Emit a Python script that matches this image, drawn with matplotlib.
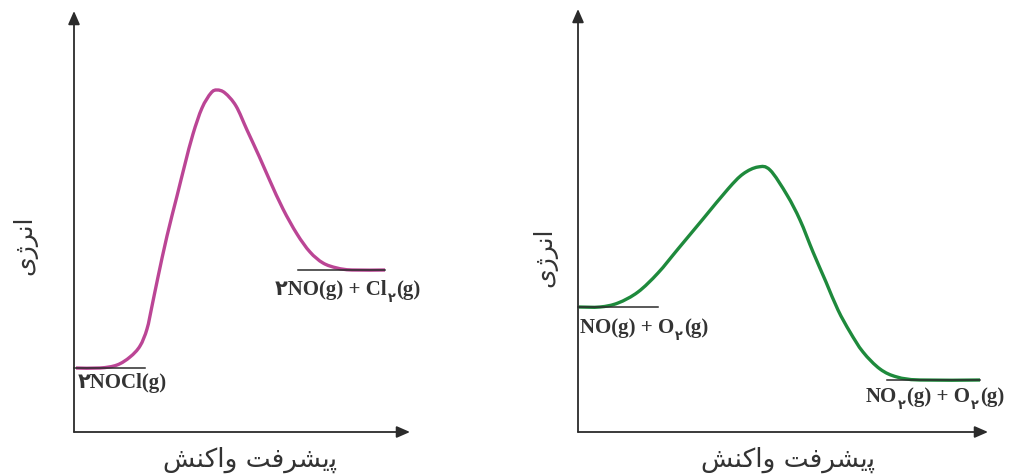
import matplotlib
matplotlib.use("Agg")
import matplotlib.pyplot as plt
from matplotlib.path import Path
from matplotlib.patches import PathPatch

# Energy profiles (arbitrary units: progress, energy)
# left: 2NOCl(g) -> 2NO(g) + Cl2(g)   (endothermic)
nocl_progress = [2, 26, 43, 56, 66, 73, 78, 84, 93, 103, 111, 119, 128, 137,
                 143, 151, 162, 173, 185, 196, 209, 223, 236, 249, 263, 278, 311]
nocl_energy = [64, 64, 67, 75, 86, 103, 126, 155, 196, 236, 268, 298, 324, 339,
               342, 339, 326, 302, 276, 251, 223, 198, 180, 169, 164, 162, 162]

# right: NO(g) + O3(g) -> NO2(g) + O2(g)   (exothermic)
no_progress = [1, 22, 40, 60, 80, 100, 125, 150, 165, 180, 192, 209,
               222, 235, 248, 260, 272, 285, 302, 319, 342, 402]
no_energy = [125, 125, 129, 140, 159, 183, 213, 243, 258, 265, 262, 237,
             212, 180, 150, 122, 100, 80, 63, 55, 52, 52]

# Persian text given in visual order with presentation forms
# (matplotlib does no Arabic shaping / bidi)
Y_LABEL = "\uFBFC\uFB8A\uFEAE\uFEE7\uFE8D"  # انرژی
X_LABEL = "\uFEB6\uFEE8\uFB90\uFE8D\uFEED \uFE96\uFED3\uFEAE\uFEB8\uFBFE\uFB58"  # پیشرفت واکنش
TWO = "\u06F2"

# (text, is_subscript) pieces for the species labels
left_reactant = [(TWO + "NOCl(g)", False)]
left_product = [(TWO + "NO(g) + Cl", False), (TWO, True), ("(g)", False)]
right_reactant = [("NO(g) + O", False), (TWO, True), ("(g)", False)]
right_product = [("NO", False), (TWO, True), ("(g) + O", False), (TWO, True), ("(g)", False)]

AXIS_COLOR = "#2b2b2b"
TEXT_COLOR = "#333333"
LABEL_FONT = ["Liberation Serif", "DejaVu Sans"]
AR_FONT = ["DejaVu Sans"]


def smooth_path(xs, ys):
    # catmull-rom through the read points, as cubic bezier segments
    pts = list(zip(xs, ys))
    verts = [pts[0]]
    codes = [Path.MOVETO]
    n = len(pts)
    for i in range(n - 1):
        p0 = pts[max(i - 1, 0)]
        p1 = pts[i]
        p2 = pts[i + 1]
        p3 = pts[min(i + 2, n - 1)]
        c1 = (p1[0] + (p2[0] - p0[0]) / 6, p1[1] + (p2[1] - p0[1]) / 6)
        c2 = (p2[0] - (p3[0] - p1[0]) / 6, p2[1] - (p3[1] - p1[1]) / 6)
        verts += [c1, c2, p2]
        codes += [Path.CURVE4] * 3
    return Path(verts, codes)


def chem_label(ax, x, y, parts, size=15):
    first = None
    prev = None
    for txt, sub in parts:
        fs = size * 0.62 if sub else size
        if first is None:
            prev = ax.text(x, y, txt, fontsize=fs, fontweight="bold",
                           family=LABEL_FONT, color=TEXT_COLOR,
                           ha="left", va="center")
            first = prev
            continue
        prev = ax.annotate(txt, xy=(1, 0), xycoords=(prev, first),
                           xytext=(0.7, -3.5 if sub else 0),
                           textcoords="offset points",
                           fontsize=fs, fontweight="bold", family=LABEL_FONT,
                           color=TEXT_COLOR, ha="left", va="bottom")


def draw_panel(ax, progress, energy, color, x_tip, y_tip,
               react_end, prod_start, prod_end, xlab_x, ylab_x, ylab_y):
    # axes with arrow heads
    for tip in [(x_tip, 0), (0, y_tip)]:
        ax.annotate("", xy=tip, xytext=(0, 0),
                    arrowprops=dict(arrowstyle="-|>,head_length=0.8,head_width=0.35",
                                    color=AXIS_COLOR, lw=1.3,
                                    shrinkA=0, shrinkB=0))
    ax.add_patch(PathPatch(smooth_path(progress, energy), fill=False,
                           edgecolor=color, lw=2.4, capstyle="butt"))
    # reactant / product levels
    ax.plot([0, react_end], [energy[0], energy[0]], color=AXIS_COLOR, lw=1.1)
    ax.plot([prod_start, prod_end], [energy[-1], energy[-1]], color=AXIS_COLOR, lw=1.1)

    ax.text(xlab_x, -27, X_LABEL, family=AR_FONT, fontsize=19,
            color=TEXT_COLOR, ha="center", va="center")
    ax.text(ylab_x, ylab_y, Y_LABEL, family=AR_FONT, fontsize=18,
            color=TEXT_COLOR, ha="center", va="center", rotation=90)


W, H = 1018, 477
fig = plt.figure(figsize=(W / 100, H / 100), dpi=100)

ax1 = fig.add_axes([0, 0, 509 / W, 1])
ax1.set_xlim(-74, 435)
ax1.set_ylim(-44, 433)
ax1.axis("off")
draw_panel(ax1, nocl_progress, nocl_energy, "#bb4595", 336, 421,
           react_end=71, prod_start=224, prod_end=311,
           xlab_x=176, ylab_x=-49, ylab_y=188)
chem_label(ax1, 4, 50, left_reactant)
chem_label(ax1, 201, 143, left_product)

ax2 = fig.add_axes([509 / W, 0, 509 / W, 1])
ax2.set_xlim(-69, 440)
ax2.set_ylim(-44, 433)
ax2.axis("off")
draw_panel(ax2, no_progress, no_energy, "#1e8a3c", 410, 423,
           react_end=80, prod_start=309, prod_end=402,
           xlab_x=210, ylab_x=-33, ylab_y=176)
chem_label(ax2, 2, 105, right_reactant)
chem_label(ax2, 288, 36, right_product)

fig.savefig("out.png", dpi=100)
